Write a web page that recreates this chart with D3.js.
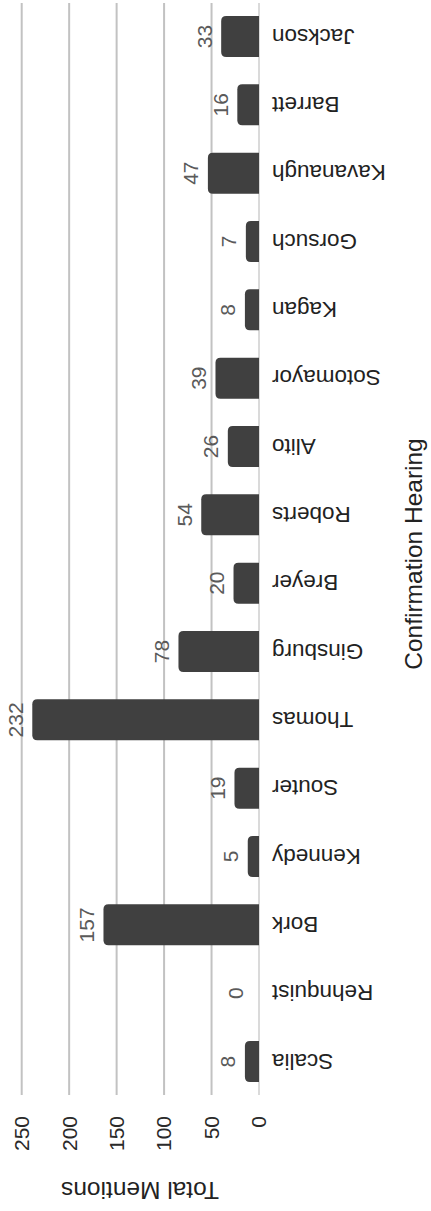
<!DOCTYPE html>
<html>
<head>
<meta charset="utf-8">
<script src="https://cdn.jsdelivr.net/npm/d3@7"></script>
<style>
  html, body { margin: 0; padding: 0; background: #fff; }
  svg { display: block; font-family: "Liberation Sans", Arial, Helvetica, sans-serif; }
</style>
</head>
<body>
<svg id="chart" width="431" height="1211"></svg>
<script>
// Mentions per Supreme Court confirmation hearing
const nominees = ["Scalia", "Rehnquist", "Bork", "Kennedy", "Souter", "Thomas", "Ginsburg",
  "Breyer", "Roberts", "Alito", "Sotomayor", "Kagan", "Gorsuch", "Kavanaugh", "Barrett", "Jackson"];
const mentions = [8, 0, 157, 5, 19, 232, 78, 20, 54, 26, 39, 8, 7, 47, 16, 33];
const valueTicks = [0, 50, 100, 150, 200, 250];

const rows = nominees.map((name, i) => ({ name, value: mentions[i] }));

// The chart is laid out as a column chart on a 1211 x 431 canvas,
// then turned a quarter turn counter-clockwise into the tall page.
const W = 1211;
const svg = d3.select("#chart");
const g = svg.append("g").attr("transform", `translate(0,${W}) rotate(-90)`);

const x = d3.scaleBand()
  .domain(nominees)
  .range([116, 1208])
  .paddingInner(0.4)
  .paddingOuter(0.19);

const y = d3.scaleLinear().domain([0, 250]).range([259, 21.7]);

// gridlines
g.append("g").selectAll("line")
  .data(valueTicks)
  .join("line")
  .attr("x1", 116).attr("x2", 1208)
  .attr("y1", d => y(d)).attr("y2", d => y(d))
  .attr("stroke", d => d === 0 ? "#dadada" : "#c2c2c2")
  .attr("stroke-width", 2);

// value axis labels
g.append("g").selectAll("text")
  .data(valueTicks)
  .join("text")
  .attr("x", 95)
  .attr("y", d => y(d))
  .attr("dy", "0.35em")
  .attr("text-anchor", "end")
  .attr("font-size", 21)
  .attr("fill", "#2a2a2a")
  .text(d => d);

// bars with a rounded cap on the outer end
const cap = 6.5, r = 5;
function barPath(d) {
  const x0 = x(d.name), w = x.bandwidth();
  const base = y(0), top = y(d.value) - cap;
  return `M${x0},${base}V${top + r}Q${x0},${top} ${x0 + r},${top}` +
    `H${x0 + w - r}Q${x0 + w},${top} ${x0 + w},${top + r}V${base}Z`;
}
g.append("g").selectAll("path")
  .data(rows.filter(d => d.value > 0))
  .join("path")
  .attr("d", barPath)
  .attr("fill", "#404040");

// value labels
g.append("g").selectAll("text")
  .data(rows)
  .join("text")
  .attr("x", d => x(d.name) + x.bandwidth() / 2)
  .attr("y", d => y(d.value) - 16)
  .attr("text-anchor", "middle")
  .attr("font-size", 21)
  .attr("fill", "#5a5a5a")
  .text(d => d.value);

// category labels
g.append("g").selectAll("text")
  .data(nominees)
  .join("text")
  .attr("transform", d => `translate(${x(d) + x.bandwidth() / 2},272) rotate(-90)`)
  .attr("dy", "0.35em")
  .attr("text-anchor", "end")
  .attr("font-size", 22.5)
  .attr("fill", "#222")
  .text(d => d);

// axis titles
g.append("text")
  .attr("transform", "translate(29.3,140) rotate(-90)")
  .attr("text-anchor", "middle")
  .attr("font-size", 24.5)
  .attr("fill", "#222")
  .text("Total Mentions");

g.append("text")
  .attr("x", 657)
  .attr("y", 421.7)
  .attr("text-anchor", "middle")
  .attr("font-size", 24.5)
  .attr("fill", "#222")
  .text("Confirmation Hearing");
</script>
</body>
</html>
